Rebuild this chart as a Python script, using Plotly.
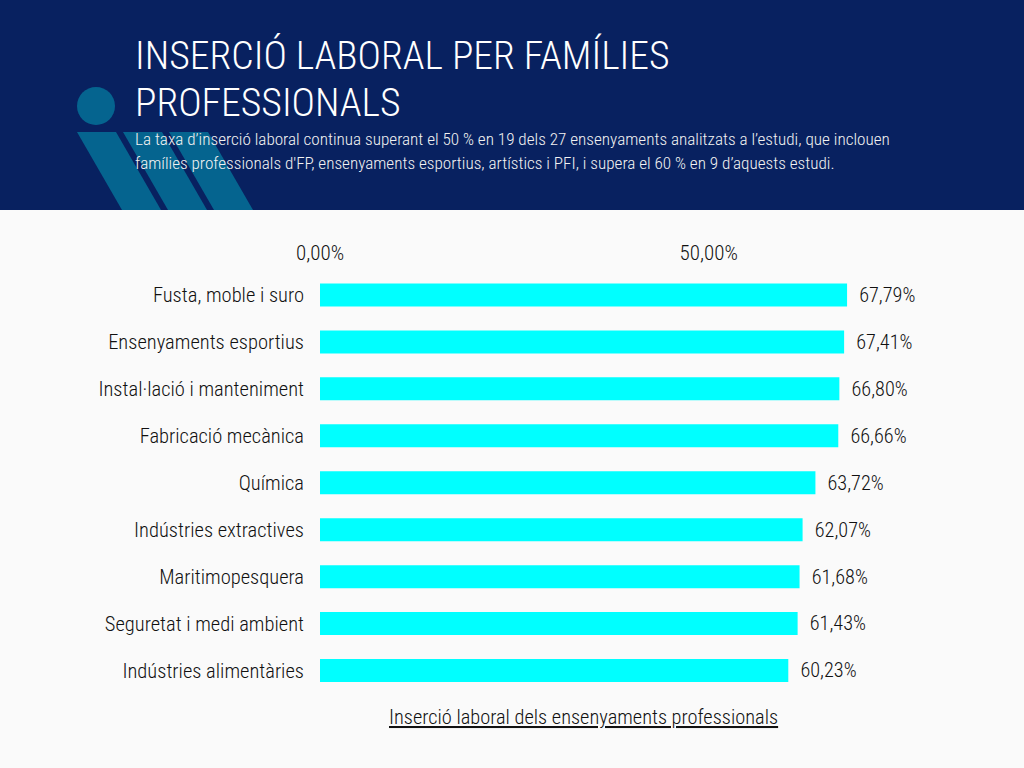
import plotly.graph_objects as go

families = ["Fusta, moble i suro", "Ensenyaments esportius", "Instal·lació i manteniment",
            "Fabricació mecànica", "Química", "Indústries extractives", "Maritimopesquera",
            "Seguretat i medi ambient", "Indústries alimentàries"]
insertion = [67.79, 67.41, 66.80, 66.66, 63.72, 62.07, 61.68, 61.43, 60.23]
axis_ticks = [0, 50]
axis_labels = ["0,00%", "50,00%"]
title_lines = ["INSERCIÓ LABORAL PER FAMÍLIES", "PROFESSIONALS"]
intro_lines = ["La taxa d’inserció laboral continua superant el 50 % en 19 dels 27 ensenyaments analitzats a l’estudi, que inclouen",
               "famílies professionals d'FP, ensenyaments esportius, artístics i PFI, i supera el 60 % en 9 d’aquests estudi."]
axis_title = "Inserció laboral dels ensenyaments professionals"

FONT = "Roboto Condensed, Roboto"
INK = "#111111"
W, H = 1024, 768

fig = go.Figure(go.Bar(x=insertion, y=families, orientation="h", marker_color="#00ffff",
                       marker_line_width=0, width=0.49, text=insertion,
                       texttemplate="\u00a0\u00a0%{x:.2f}%", textposition="outside", cliponaxis=False,
                       textfont=dict(family=FONT, size=22, color=INK, weight=300)))

# header band and the "i" logo behind the text
fig.add_shape(type="rect", xref="paper", yref="paper", x0=0, x1=1, y0=1 - 210 / H, y1=1,
              fillcolor="#082160", line_width=0, layer="below")
fig.add_shape(type="circle", xref="paper", yref="paper", x0=77 / W, x1=115 / W,
              y0=1 - 125 / H, y1=1 - 87 / H, fillcolor="#05648f", line_width=0, layer="below")
for left in [77, 123, 169]:
    corners = [(left, 132), (left + 39, 132), (left + 84, 210), (left + 45, 210)]
    p = "M " + " L ".join("%f,%f" % (cx / W, 1 - cy / H) for cx, cy in corners) + " Z"
    fig.add_shape(type="path", xref="paper", yref="paper", path=p,
                  fillcolor="#05648f", line_width=0, layer="below")

def place(text, x, y, size, color, xanchor="left", weight=300):
    fig.add_annotation(text=text, xref="paper", yref="paper", x=x / W, y=1 - y / H,
                       xanchor=xanchor, yanchor="middle", showarrow=False,
                       font=dict(family=FONT, size=size, color=color, weight=weight))

place(title_lines[0], 132.5, 56, 39.7, "#ffffff")
place(title_lines[1], 132.5, 102, 39.7, "#ffffff")
place(intro_lines[0], 132.5, 139, 17.15, "#f2f2f2")
place(intro_lines[1], 132.5, 163, 17.15, "#f2f2f2")
place("<u>" + axis_title + "</u>", 583.5, 717, 20.4, INK, "center")

fig.update_layout(width=W, height=H, paper_bgcolor="#fafafa", plot_bgcolor="#fafafa",
                  separators=",.", showlegend=False, margin=dict(l=0, r=0, t=0, b=0),
                  font=dict(family=FONT, size=20.5, color=INK, weight=300))
fig.update_xaxes(domain=[320 / W, 942 / W], range=[0, 80], side="top", tickvals=axis_ticks,
                 ticktext=axis_labels, showgrid=False, zeroline=False,
                 showline=False, ticks="", anchor="y", automargin=False, ticklabelstandoff=6,
                 tickfont=dict(size=21))
fig.update_yaxes(domain=[1 - 694 / H, 1 - 271.5 / H], categoryorder="array",
                 categoryarray=families[::-1], showgrid=False, showline=False, ticks="",
                 ticklabelstandoff=15, automargin=False)

fig.write_html("out.html", config={"displayModeBar": False},
               post_script="document.body.style.margin='0';")
